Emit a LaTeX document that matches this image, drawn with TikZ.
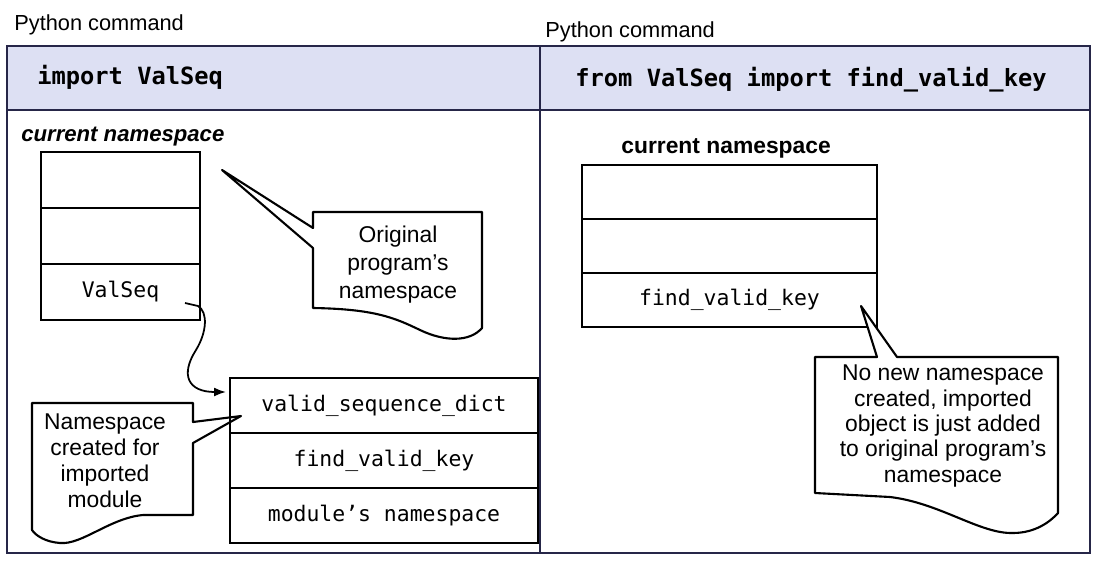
\documentclass[tikz,border=0pt]{standalone}
\usepackage{fontspec}
\setsansfont{Liberation Sans}
\setmonofont{DejaVu Sans Mono}
\usepackage{xcolor}
\usepackage{tikz}
\usetikzlibrary{arrows.meta, positioning}
\definecolor{framec}{RGB}{38,38,72}
\definecolor{barfill}{RGB}{221,224,243}
\tikzset{
  panel/.style={draw=framec, line width=1.3pt},
  cmdbar/.style={panel, fill=barfill},
  cmdlbl/.style={anchor=west, inner sep=0pt, font=\sffamily\fontsize{12.4}{14}\selectfont},
  cmdtxt/.style={inner sep=0pt, font=\ttfamily\bfseries\fontsize{13.5}{15}\selectfont},
  nslbl/.style={anchor=west, inner sep=0pt, font=\sffamily\bfseries\fontsize{12.6}{14}\selectfont},
  nsrow/.style={draw, line width=1.4pt, inner sep=0pt, outer sep=0pt,
                font=\ttfamily\fontsize{12.2}{14}\selectfont},
  note/.style={draw, line width=1.2pt, fill=white, line join=round},
  notetxt/.style={align=center, inner sep=0pt, font=\sffamily\fontsize{13}{14.8}\selectfont},
  link/.style={-{Latex[length=2.4mm, width=1.8mm]}, line width=1pt},
}

\begin{document}
\begin{tikzpicture}[x=0.02cm, y=-0.02cm,
    lw/.style={nsrow, minimum width=3.18cm, minimum height=1.12cm},
    rw/.style={nsrow, minimum width=5.9cm, minimum height=1.08cm},
    mw/.style={nsrow, minimum width=6.16cm, minimum height=1.1cm}]
  \useasboundingbox (0,0) rectangle (1101,564);
  \draw[cmdbar] (7,46) rectangle (540,110);
  \draw[cmdbar] (540,46) rectangle (1090,110);
  \draw[panel] (7,110) rectangle (540,553);
  \draw[panel] (540,110) rectangle (1090,553);
  \node[cmdlbl] (pyL) at (14,25) {Python command};
  \node[cmdlbl] (pyR) at (545,32) {Python command};
  \node[cmdtxt, anchor=west] (cmdL) at (37,77) {import ValSeq};
  \node[cmdtxt] (cmdR) at (811,80) {from ValSeq import find\_valid\_key};

  % import ValSeq
  \node[nslbl, font=\sffamily\bfseries\itshape\fontsize{12.6}{14}\selectfont] (curL) at (21,137) {current namespace};
  \node[lw] (l1) at (120.5,180) {};
  \node[lw] (l2) at (120.5,236) {};
  \node[lw] (l3) at (120.5,292) {ValSeq};
  \draw[note] (313,212) -- (482,212) -- (482,328)
        .. controls (470,342) and (445,342) .. (420,330)
        .. controls (395,318) and (375,309) .. (313,308)
        -- (313,248) -- (222,170) -- (313,228) -- cycle;
  \node[notetxt, font=\sffamily\fontsize{13}{15.9}\selectfont] (orig) at (398,265)
        {Original\\program's\\namespace};
  \draw[note] (32,403) -- (193,403) -- (193,422) -- (241,416) -- (193,443) -- (193,515)
        -- (143,515) .. controls (110,518) and (82,545) .. (60,543)
        .. controls (46,542) and (36,536) .. (32,530) -- cycle;
  \node[notetxt] (made) at (105,461) {Namespace\\created for\\imported\\module};
  \node[mw] (m1) at (384,405.5) {valid\_sequence\_dict};
  \node[mw] (m2) at (384,460.5) {find\_valid\_key};
  \node[mw] (m3) at (384,515.5) {module’s namespace};
  \coordinate (vsout) at ([shift={(-15,-17)}]l3.south east);
  \coordinate (modin) at ([shift={(-4,14)}]m1.north west);
  \draw[link] (vsout) -- (198,306) .. controls (208,312) and (207,332) .. (196,350)
        .. controls (180,375) and (188,392) .. (modin);

  % from ValSeq import find_valid_key
  \node[nslbl, font=\sffamily\bfseries\fontsize{13}{14}\selectfont] (curR) at (621,148) {current namespace};
  \node[rw] (r1) at (729.5,192) {};
  \node[rw] (r2) at (729.5,246) {};
  \node[rw] (r3) at (729.5,300) {find\_valid\_key};
  \draw[note] (815,357) -- (877,357) -- (861,306) -- (897,357) -- (1058,357) -- (1058,513)
        .. controls (1050,522) and (1035,533) .. (1013,533)
        .. controls (980,534) and (940,503) .. (890,497)
        -- (815,493) -- cycle;
  \node[notetxt, font=\sffamily\fontsize{13}{14.5}\selectfont] (nonew) at (943,426)
        {No new namespace\\created, imported\\object is just added\\to original program's\\namespace};
\end{tikzpicture}
\end{document}
